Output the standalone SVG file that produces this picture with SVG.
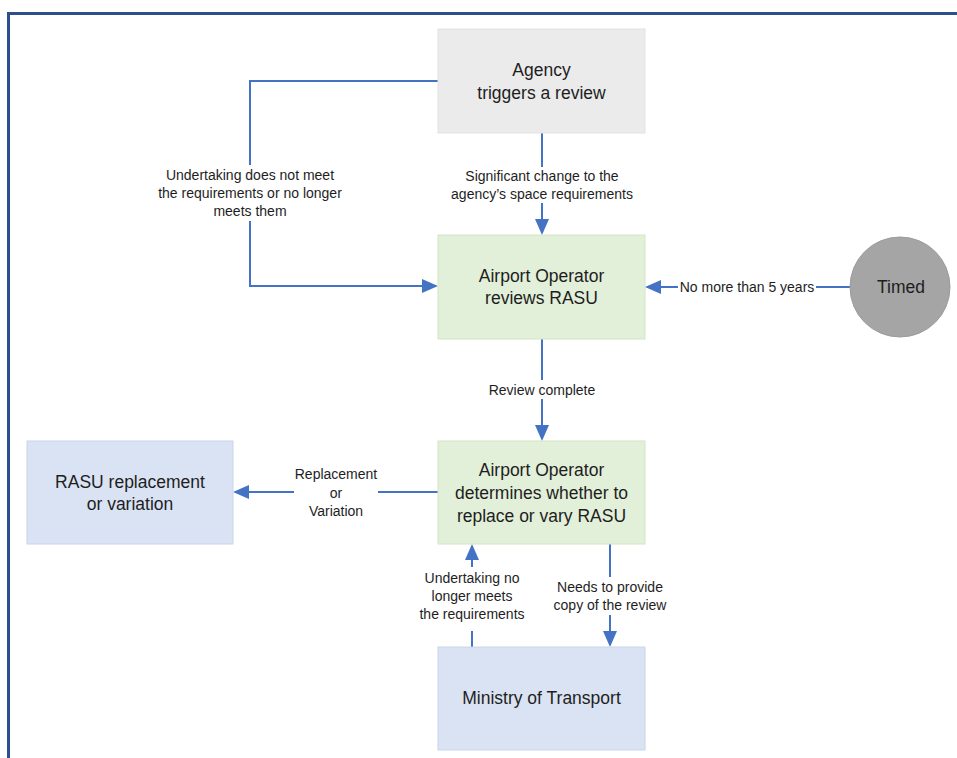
<svg xmlns="http://www.w3.org/2000/svg" width="957" height="758" viewBox="0 0 957 758">
  <style>
    .node text, .lbl text { font-family: "Liberation Sans", Arial, sans-serif; fill: #1e1e1e; text-anchor: middle; dominant-baseline: central; }
    .node text { font-size: 17.5px; }
    .lbl text { font-size: 14px; }
    .gray { fill: #ebebeb; stroke: #e2e2e2; stroke-width: 1; }
    .green { fill: #e2efd9; stroke: #d3e6c6; stroke-width: 1; }
    .blue { fill: #dae3f3; stroke: #c9d5ec; stroke-width: 1; }
    .circ { fill: #a5a5a5; stroke: #9c9c9c; stroke-width: 1; }
    .conn { fill: none; stroke: #4472c4; stroke-width: 2; }
    .bg { fill: #ffffff; }
  </style>
  <defs>
    <marker id="arr" markerUnits="userSpaceOnUse" markerWidth="16" markerHeight="14" refX="14" refY="7" orient="auto">
      <path d="M0,0 L16,7 L0,14 z" fill="#4472c4"/>
    </marker>
  </defs>

  <rect x="0" y="0" width="957" height="758" fill="#ffffff"/>
  <path d="M8.5,758 V13.5 H957" fill="none" stroke="#2f4f8c" stroke-width="3"/>

  <g id="connectors">
    <path class="conn" d="M438,81 H250 V286 H436" marker-end="url(#arr)"/>
    <path class="conn" d="M542,133 V233" marker-end="url(#arr)"/>
    <path class="conn" d="M850,287 H647" marker-end="url(#arr)"/>
    <path class="conn" d="M542,339 V439" marker-end="url(#arr)"/>
    <path class="conn" d="M438,492 H235" marker-end="url(#arr)"/>
    <path class="conn" d="M472,647 V546" marker-end="url(#arr)"/>
    <path class="conn" d="M610,544 V645" marker-end="url(#arr)"/>
  </g>

  <g id="labels">
    <g class="lbl" id="lbl-undertaking-not-meet">
      <rect class="bg" x="152" y="165" width="196" height="56"/>
      <text x="250" y="175">Undertaking does not meet</text>
      <text x="250" y="193">the requirements or no longer</text>
      <text x="250" y="211">meets them</text>
    </g>
    <g class="lbl" id="lbl-significant">
      <rect class="bg" x="448" y="167" width="188" height="36"/>
      <text x="542" y="176">Significant change to the</text>
      <text x="542" y="194">agency’s space requirements</text>
    </g>
    <g class="lbl" id="lbl-five-years">
      <rect class="bg" x="678" y="278" width="138" height="18"/>
      <text x="747" y="287">No more than 5 years</text>
    </g>
    <g class="lbl" id="lbl-review-complete">
      <rect class="bg" x="484" y="380" width="116" height="19"/>
      <text x="542" y="390">Review complete</text>
    </g>
    <g class="lbl" id="lbl-replacement">
      <rect class="bg" x="294" y="463" width="84" height="58"/>
      <text x="336" y="474">Replacement</text>
      <text x="336" y="493">or</text>
      <text x="336" y="511">Variation</text>
    </g>
    <g class="lbl" id="lbl-no-longer">
      <rect class="bg" x="416" y="567" width="114" height="64"/>
      <text x="472" y="578">Undertaking no</text>
      <text x="472" y="596">longer meets</text>
      <text x="472" y="614">the requirements</text>
    </g>
    <g class="lbl" id="lbl-copy">
      <rect class="bg" x="550" y="577" width="120" height="38"/>
      <text x="610" y="587">Needs to provide</text>
      <text x="610" y="605">copy of the review</text>
    </g>
  </g>

  <g class="node" id="agency">
    <rect class="gray" x="438" y="29" width="207" height="104"/>
    <text x="541.5" y="70">Agency</text>
    <text x="541.5" y="93">triggers a review</text>
  </g>
  <g class="node" id="reviews">
    <rect class="green" x="438" y="235" width="207" height="104"/>
    <text x="541.5" y="276">Airport Operator</text>
    <text x="541.5" y="298">reviews RASU</text>
  </g>
  <g class="node" id="timed">
    <circle class="circ" cx="900" cy="287" r="50"/>
    <text x="901" y="287">Timed</text>
  </g>
  <g class="node" id="determines">
    <rect class="green" x="438" y="441" width="207" height="103"/>
    <text x="541.5" y="470">Airport Operator</text>
    <text x="541.5" y="493">determines whether to</text>
    <text x="541.5" y="516">replace or vary RASU</text>
  </g>
  <g class="node" id="rasu">
    <rect class="blue" x="27" y="441" width="206" height="103"/>
    <text x="130" y="482">RASU replacement</text>
    <text x="130" y="504">or variation</text>
  </g>
  <g class="node" id="ministry">
    <rect class="blue" x="438" y="647" width="207" height="103"/>
    <text x="541.5" y="698">Ministry of Transport</text>
  </g>
</svg>
